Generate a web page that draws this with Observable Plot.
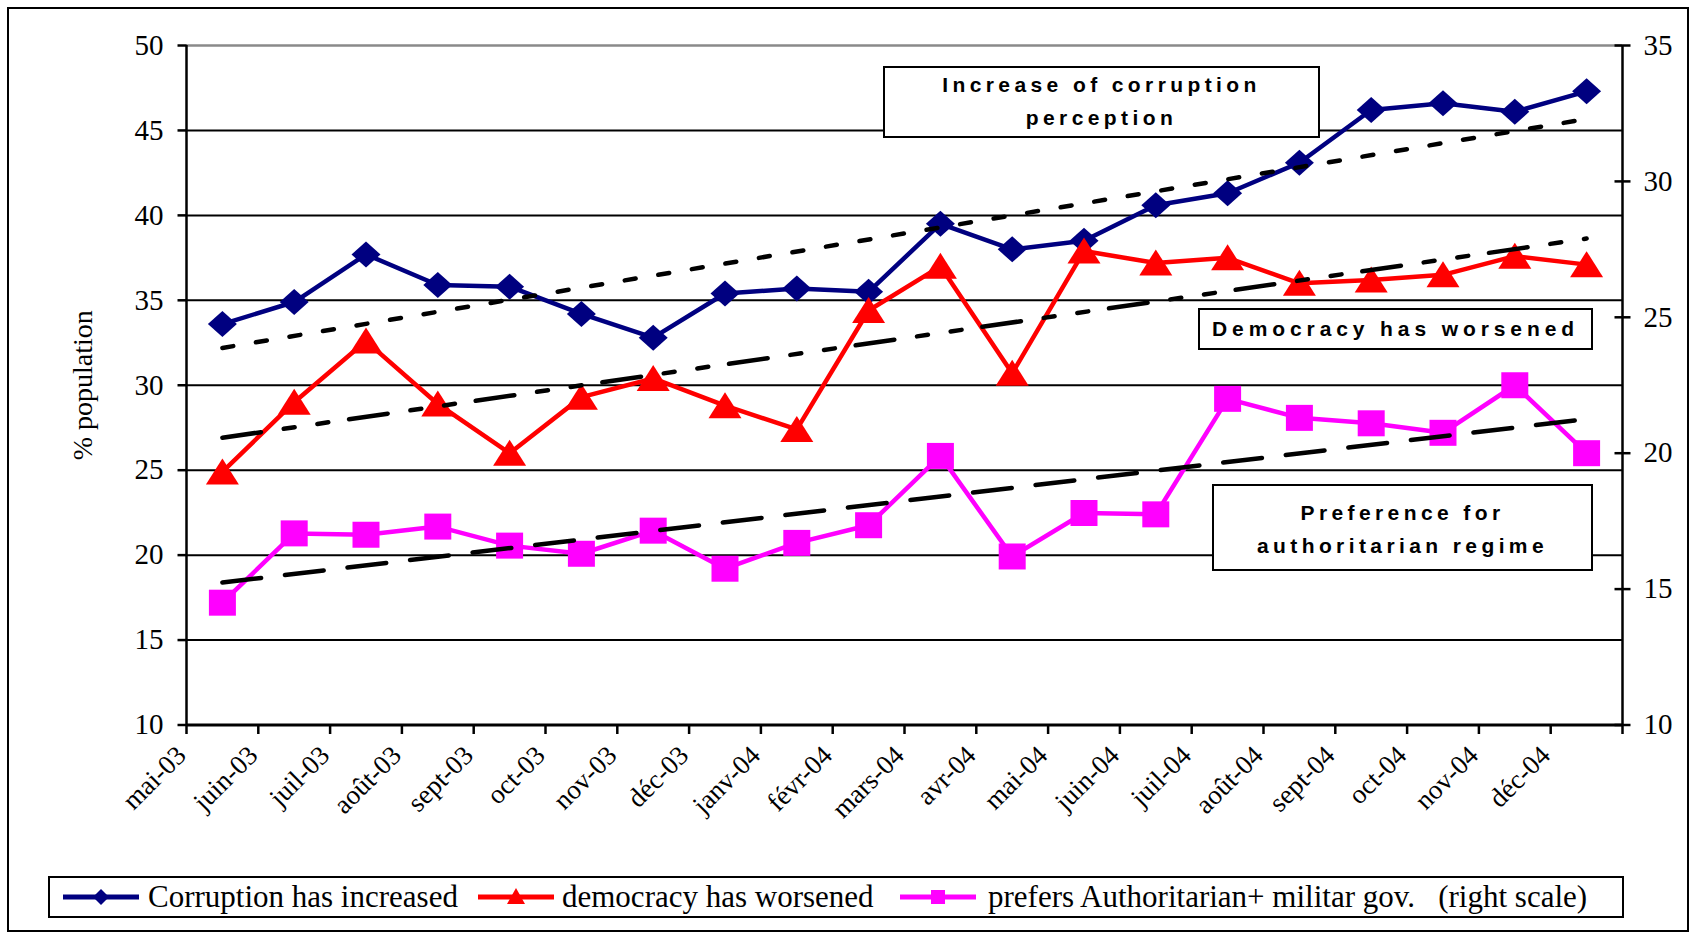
<!DOCTYPE html>
<html><head><meta charset="utf-8">
<script src="https://cdn.jsdelivr.net/npm/d3@7"></script>
<script src="https://cdn.jsdelivr.net/npm/@observablehq/plot@0.6"></script>
<style>
html,body{margin:0;padding:0;background:#fff;}
#wrap{position:relative;width:1693px;height:934px;overflow:hidden;background:#fff;}
#frame{position:absolute;left:7px;top:7px;width:1678px;height:921px;border:2px solid #000;}
#chart{position:absolute;left:0;top:0;}
#chart svg text{font-family:"Liberation Serif","Times New Roman",serif;}
.note{position:absolute;border:2px solid #000;background:#fff;box-sizing:border-box;font-family:"Liberation Sans",Arial,sans-serif;font-weight:bold;font-size:21px;letter-spacing:4.4px;text-align:center;color:#000;white-space:pre;}
#legend{position:absolute;left:48px;top:876px;width:1576px;height:42px;border:2px solid #000;box-sizing:border-box;background:#fff;font-family:"Liberation Serif","Times New Roman",serif;font-size:31px;color:#000;}
.li{position:absolute;top:0;height:38px;line-height:38px;white-space:pre;}
.sw{position:absolute;top:0;}
</style></head><body>
<div id="wrap">
  <div id="frame"></div>
  <div id="chart"></div>
  <div class="note" style="left:883px;top:66px;width:437px;height:72px;line-height:33px;">Increase of corruption
perception</div>
  <div class="note" style="left:1198px;top:308px;width:395px;height:42px;line-height:38px;letter-spacing:4.9px;">Democracy has worsened</div>
  <div class="note" style="left:1212px;top:484px;width:381px;height:87px;line-height:33px;padding-top:10px;">Preference for
authoritarian regime</div>
  <div id="legend"></div>
</div>
<script>
const months = ["mai-03","juin-03","juil-03","août-03","sept-03","oct-03","nov-03","déc-03","janv-04","févr-04","mars-04","avr-04","mai-04","juin-04","juil-04","août-04","sept-04","oct-04","nov-04","déc-04"];
const corruption = [33.6, 34.9, 37.7, 35.9, 35.8, 34.2, 32.8, 35.4, 35.7, 35.5, 39.5, 38.0, 38.5, 40.6, 41.3, 43.1, 46.2, 46.6, 46.1, 47.3];
const democracy = [24.9, 29.0, 32.6, 28.9, 26.0, 29.3, 30.4, 28.8, 27.4, 34.4, 37.0, 30.7, 37.9, 37.2, 37.5, 36.0, 36.2, 36.5, 37.6, 37.1];
const authoritarian = [14.5, 17.05, 17.0, 17.3, 16.6, 16.3, 17.15, 15.75, 16.7, 17.35, 19.9, 16.2, 17.8, 17.75, 22.0, 21.3, 21.1, 20.75, 22.5, 20.0]; // right scale
const leftTicks = [10, 15, 20, 25, 30, 35, 40, 45, 50];
const rightTicks = [10, 15, 20, 25, 30, 35];
const leftDomain = [10, 50];
const rightDomain = [10, 35];
const seriesNames = ["Corruption has increased", "democracy has worsened", "prefers Authoritarian+ militar gov.   (right scale)"];
const colors = ["#000080", "#ff0000", "#ff00ff"];

const toLeft = v => leftDomain[0] + (v - rightDomain[0]) * (leftDomain[1] - leftDomain[0]) / (rightDomain[1] - rightDomain[0]);
const rows = months.map((m, i) => ({i, month: m, c: corruption[i], d: democracy[i], a: toLeft(authoritarian[i])}));
const bounds = d3.range(months.length + 1).map(i => i - 0.5);

const sym = f => ({draw: f});
const diamond = sym(ctx => {ctx.moveTo(0,-13);ctx.lineTo(14.5,0);ctx.lineTo(0,13);ctx.lineTo(-14.5,0);ctx.closePath();});
const triangle = sym(ctx => {ctx.moveTo(0,-13.5);ctx.lineTo(16.5,12.5);ctx.lineTo(-16.5,12.5);ctx.closePath();});
const square = sym(ctx => {ctx.moveTo(-13.5,-13);ctx.lineTo(13.5,-13);ctx.lineTo(13.5,13);ctx.lineTo(-13.5,13);ctx.closePath();});
const tickLeft = sym(ctx => {ctx.moveTo(-9,0);ctx.lineTo(0,0);});
const tickCross = sym(ctx => {ctx.moveTo(-8,0);ctx.lineTo(8,0);});
const tickDown = sym(ctx => {ctx.moveTo(0,0);ctx.lineTo(0,9);});

const serif = "Liberation Serif";

const chart = Plot.plot({
  width: 1693,
  height: 870,
  marginLeft: 186,
  marginRight: 71,
  marginTop: 45,
  marginBottom: 145.5,
  style: {background: "transparent", overflow: "visible", fontFamily: "Liberation Serif, serif"},
  x: {domain: [bounds[0], bounds[bounds.length - 1]], axis: null},
  y: {domain: leftDomain, axis: null},
  marks: [
    Plot.ruleY(leftTicks.filter(t => t > leftDomain[0] && t < leftDomain[1]), {stroke: "#000", strokeWidth: 2}),
    Plot.ruleY([leftDomain[1]], {stroke: "#8a8a8a", strokeWidth: 2.5}),
    Plot.ruleX([bounds[0]], {stroke: "#000", strokeWidth: 2.5}),
    Plot.ruleX([bounds[bounds.length - 1]], {stroke: "#000", strokeWidth: 2.5}),
    Plot.ruleY([leftDomain[0]], {stroke: "#000", strokeWidth: 3}),
    Plot.dot(leftTicks, {y: d => d, frameAnchor: "left", symbol: tickLeft, r: 5, stroke: "#000", strokeWidth: 2.5, fill: "none"}),
    Plot.dot(rightTicks, {y: d => toLeft(d), frameAnchor: "right", symbol: tickCross, r: 5, stroke: "#000", strokeWidth: 2.5, fill: "none"}),
    Plot.dot(bounds, {x: d => d, frameAnchor: "bottom", symbol: tickDown, r: 5, stroke: "#000", strokeWidth: 2.5, fill: "none"}),
    Plot.text(leftTicks, {y: d => d, frameAnchor: "left", text: d => String(d), textAnchor: "end", dx: -23, fontSize: 29, fontFamily: serif, fill: "#000"}),
    Plot.text(rightTicks, {y: d => toLeft(d), frameAnchor: "right", text: d => String(d), textAnchor: "start", dx: 21, fontSize: 29, fontFamily: serif, fill: "#000"}),
    Plot.text(rows, {x: d => d.i - 0.5, frameAnchor: "bottom", text: "month", rotate: -45, textAnchor: "end", dx: 1, dy: 32, fontSize: 27, fontFamily: serif, fill: "#000"}),
    Plot.text(["% population"], {frameAnchor: "left", textAnchor: "middle", dx: -103, rotate: -90, fontSize: 28, fontFamily: serif, fill: "#000"}),
    Plot.line(rows, {x: "i", y: "c", stroke: colors[0], strokeWidth: 4.5}),
    Plot.dot(rows, {x: "i", y: "c", symbol: diamond, r: 10, fill: colors[0], stroke: "none"}),
    Plot.line(rows, {x: "i", y: "d", stroke: colors[1], strokeWidth: 4.5}),
    Plot.dot(rows, {x: "i", y: "d", symbol: triangle, r: 10, fill: colors[1], stroke: "none"}),
    Plot.line(rows, {x: "i", y: "a", stroke: colors[2], strokeWidth: 4.5}),
    Plot.dot(rows, {x: "i", y: "a", symbol: square, r: 10, fill: colors[2], stroke: "none"}),
    Plot.linearRegressionY(rows, {x: "i", y: "c", ci: 0, stroke: "#000", strokeWidth: 4.5, strokeDasharray: "11,23"}),
    Plot.linearRegressionY(rows, {x: "i", y: "d", ci: 0, stroke: "#000", strokeWidth: 4.5, strokeDasharray: "39,23,11,23,11,21"}),
    Plot.linearRegressionY(rows, {x: "i", y: "a", ci: 0, stroke: "#000", strokeWidth: 4.5, strokeDasharray: "39,24"})
  ]
});
document.getElementById("chart").appendChild(chart);

// legend
const legend = document.getElementById("legend");
const swX = [13, 428, 850];
const txX = [98, 512, 938];
const shapes = [
  '<path d="M38,11 L46,19 L38,27 L30,19 Z"/>',
  '<path d="M38,10 L47,26 L29,26 Z"/>',
  '<rect x="31" y="12" width="14" height="14"/>'
];
seriesNames.forEach((name, k) => {
  const sw = document.createElement("div");
  sw.className = "sw";
  sw.style.left = swX[k] + "px";
  sw.innerHTML = `<svg width="78" height="38"><line x1="0" x2="76" y1="19" y2="19" stroke="${colors[k]}" stroke-width="5"/><g fill="${colors[k]}">${shapes[k]}</g></svg>`;
  legend.appendChild(sw);
  const t = document.createElement("div");
  t.className = "li";
  t.style.left = txX[k] + "px";
  t.textContent = name;
  legend.appendChild(t);
});
</script>
</body></html>
